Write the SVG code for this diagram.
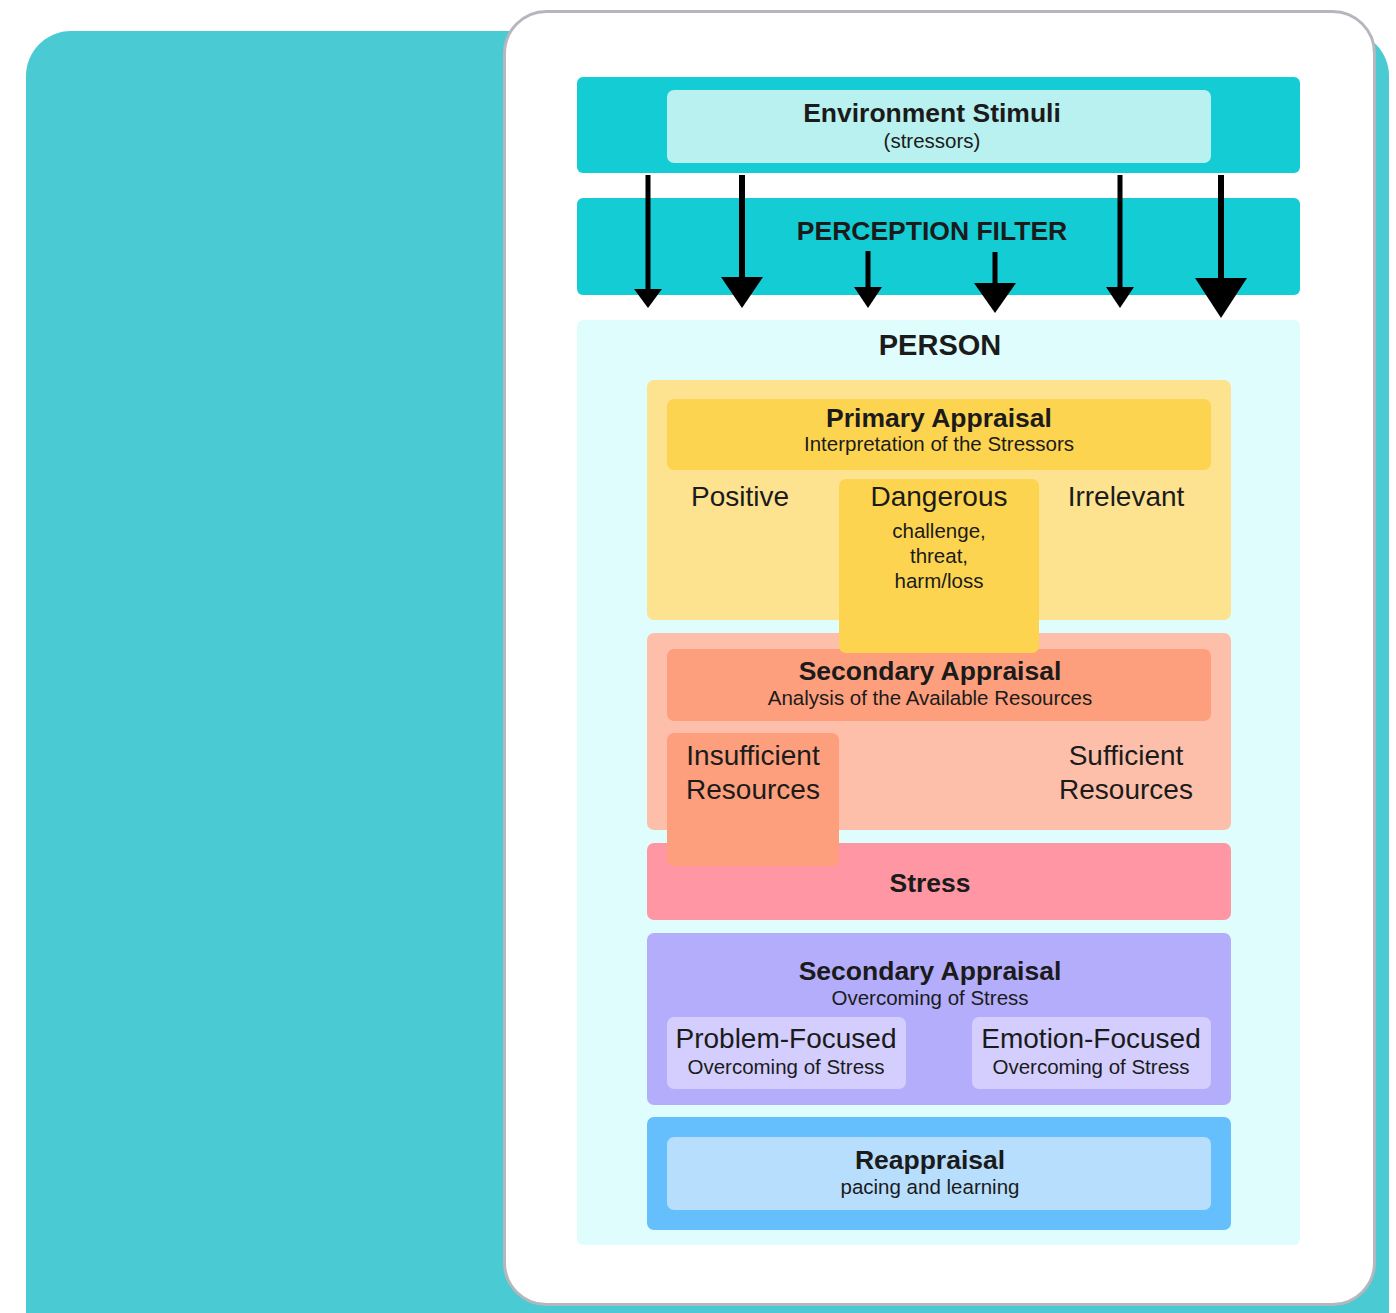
<svg xmlns="http://www.w3.org/2000/svg" width="1396" height="1313" viewBox="0 0 1396 1313">
  <style>
    text { font-family: "Liberation Sans", Arial, sans-serif; fill: #1b1b1b; text-anchor: middle; }
    .title { font-size: 26.5px; font-weight: bold; }
    .sub { font-size: 20.5px; }
    .big { font-size: 28px; }
    .shaft { stroke: #000; stroke-width: 5; }
    .head { fill: #000; }
  </style>

  <!-- backdrop and card -->
  <rect x="26" y="31" width="1363" height="1340" rx="45" fill="#4ACBD3"/>
  <rect x="504.5" y="11.5" width="870" height="1293" rx="42" fill="#FFFFFF" stroke="#B6B6BE" stroke-width="3"/>

  <!-- environment stimuli -->
  <g id="environment">
    <rect x="577" y="77" width="723" height="96" rx="6" fill="#14CCD4"/>
    <rect x="667" y="90" width="544" height="73" rx="7" fill="#B9F0F0"/>
    <text class="title" x="932" y="122">Environment Stimuli</text>
    <text class="sub" x="932" y="148">(stressors)</text>
  </g>

  <!-- perception filter -->
  <g id="perception-filter">
    <rect x="577" y="198" width="723" height="97" rx="6" fill="#14CCD4"/>
    <text class="title" x="932" y="240">PERCEPTION FILTER</text>
  </g>

  <!-- person -->
  <g id="person">
    <rect x="577" y="320" width="723" height="925" rx="6" fill="#DFFDFD"/>
    <text class="title" x="940" y="355" style="font-size:29px">PERSON</text>
  </g>

  <!-- primary appraisal -->
  <g id="primary-appraisal">
    <rect x="647" y="380" width="584" height="240" rx="7" fill="#FDE390"/>
    <rect x="667" y="399" width="544" height="71" rx="7" fill="#FDD44F"/>
    <text class="title" x="939" y="427">Primary Appraisal</text>
    <text class="sub" x="939" y="451">Interpretation of the Stressors</text>
    <text class="big" x="740" y="506">Positive</text>
    <text class="big" x="1126" y="506">Irrelevant</text>
  </g>

  <!-- secondary appraisal: resources -->
  <g id="secondary-appraisal-resources">
    <rect x="647" y="633" width="584" height="197" rx="7" fill="#FDBFAA"/>
    <rect x="667" y="649" width="544" height="72" rx="7" fill="#FD9F7D"/>
    <text class="title" x="930" y="680">Secondary Appraisal</text>
    <text class="sub" x="930" y="705">Analysis of the Available Resources</text>
    <text class="big" x="1126" y="765">Sufficient</text>
    <text class="big" x="1126" y="799">Resources</text>
  </g>

  <!-- dangerous -->
  <g id="dangerous">
    <rect x="839" y="479" width="200" height="174" rx="7" fill="#FDD44F"/>
    <text class="big" x="939" y="506">Dangerous</text>
    <text class="sub" x="939" y="538">challenge,</text>
    <text class="sub" x="939" y="563">threat,</text>
    <text class="sub" x="939" y="588">harm/loss</text>
  </g>

  <!-- stress -->
  <g id="stress">
    <rect x="647" y="843" width="584" height="77" rx="7" fill="#FE96A3"/>
    <text class="title" x="930" y="892">Stress</text>
  </g>

  <!-- insufficient resources -->
  <g id="insufficient-resources">
    <rect x="667" y="733" width="172" height="133" rx="7" fill="#FD9F7D"/>
    <text class="big" x="753" y="765">Insufficient</text>
    <text class="big" x="753" y="799">Resources</text>
  </g>

  <!-- secondary appraisal: coping -->
  <g id="secondary-appraisal-coping">
    <rect x="647" y="933" width="584" height="172" rx="7" fill="#B3ADFB"/>
    <text class="title" x="930" y="980">Secondary Appraisal</text>
    <text class="sub" x="930" y="1005">Overcoming of Stress</text>
  </g>
  <g id="problem-focused">
    <rect x="667" y="1017" width="239" height="72" rx="7" fill="#D3CEFD"/>
    <text class="big" x="786" y="1048">Problem-Focused</text>
    <text class="sub" x="786" y="1074">Overcoming of Stress</text>
  </g>
  <g id="emotion-focused">
    <rect x="972" y="1017" width="239" height="72" rx="7" fill="#D3CEFD"/>
    <text class="big" x="1091" y="1048">Emotion-Focused</text>
    <text class="sub" x="1091" y="1074">Overcoming of Stress</text>
  </g>

  <!-- reappraisal -->
  <g id="reappraisal">
    <rect x="647" y="1117" width="584" height="113" rx="7" fill="#66BFFD"/>
    <rect x="667" y="1137" width="544" height="73" rx="7" fill="#B8DEFD"/>
    <text class="title" x="930" y="1169">Reappraisal</text>
    <text class="sub" x="930" y="1194">pacing and learning</text>
  </g>

  <!-- stimulus arrows through the filter -->
  <g id="connectors">
    <line class="shaft" x1="648" y1="175" x2="648" y2="292"/>
    <polygon class="head" points="634,289 662,289 648,308"/>
    <line class="shaft" x1="742" y1="175" x2="742" y2="280" style="stroke-width:6"/>
    <polygon class="head" points="721,277 763,277 742,308"/>
    <line class="shaft" x1="868" y1="251" x2="868" y2="290"/>
    <polygon class="head" points="854,287 882,287 868,308"/>
    <line class="shaft" x1="995" y1="252" x2="995" y2="286"/>
    <polygon class="head" points="974,283 1016,283 995,313"/>
    <line class="shaft" x1="1120" y1="175" x2="1120" y2="290"/>
    <polygon class="head" points="1106,287 1134,287 1120,308"/>
    <line class="shaft" x1="1221" y1="175" x2="1221" y2="281" style="stroke-width:6"/>
    <polygon class="head" points="1195,278 1247,278 1221,318"/>
  </g>
</svg>
